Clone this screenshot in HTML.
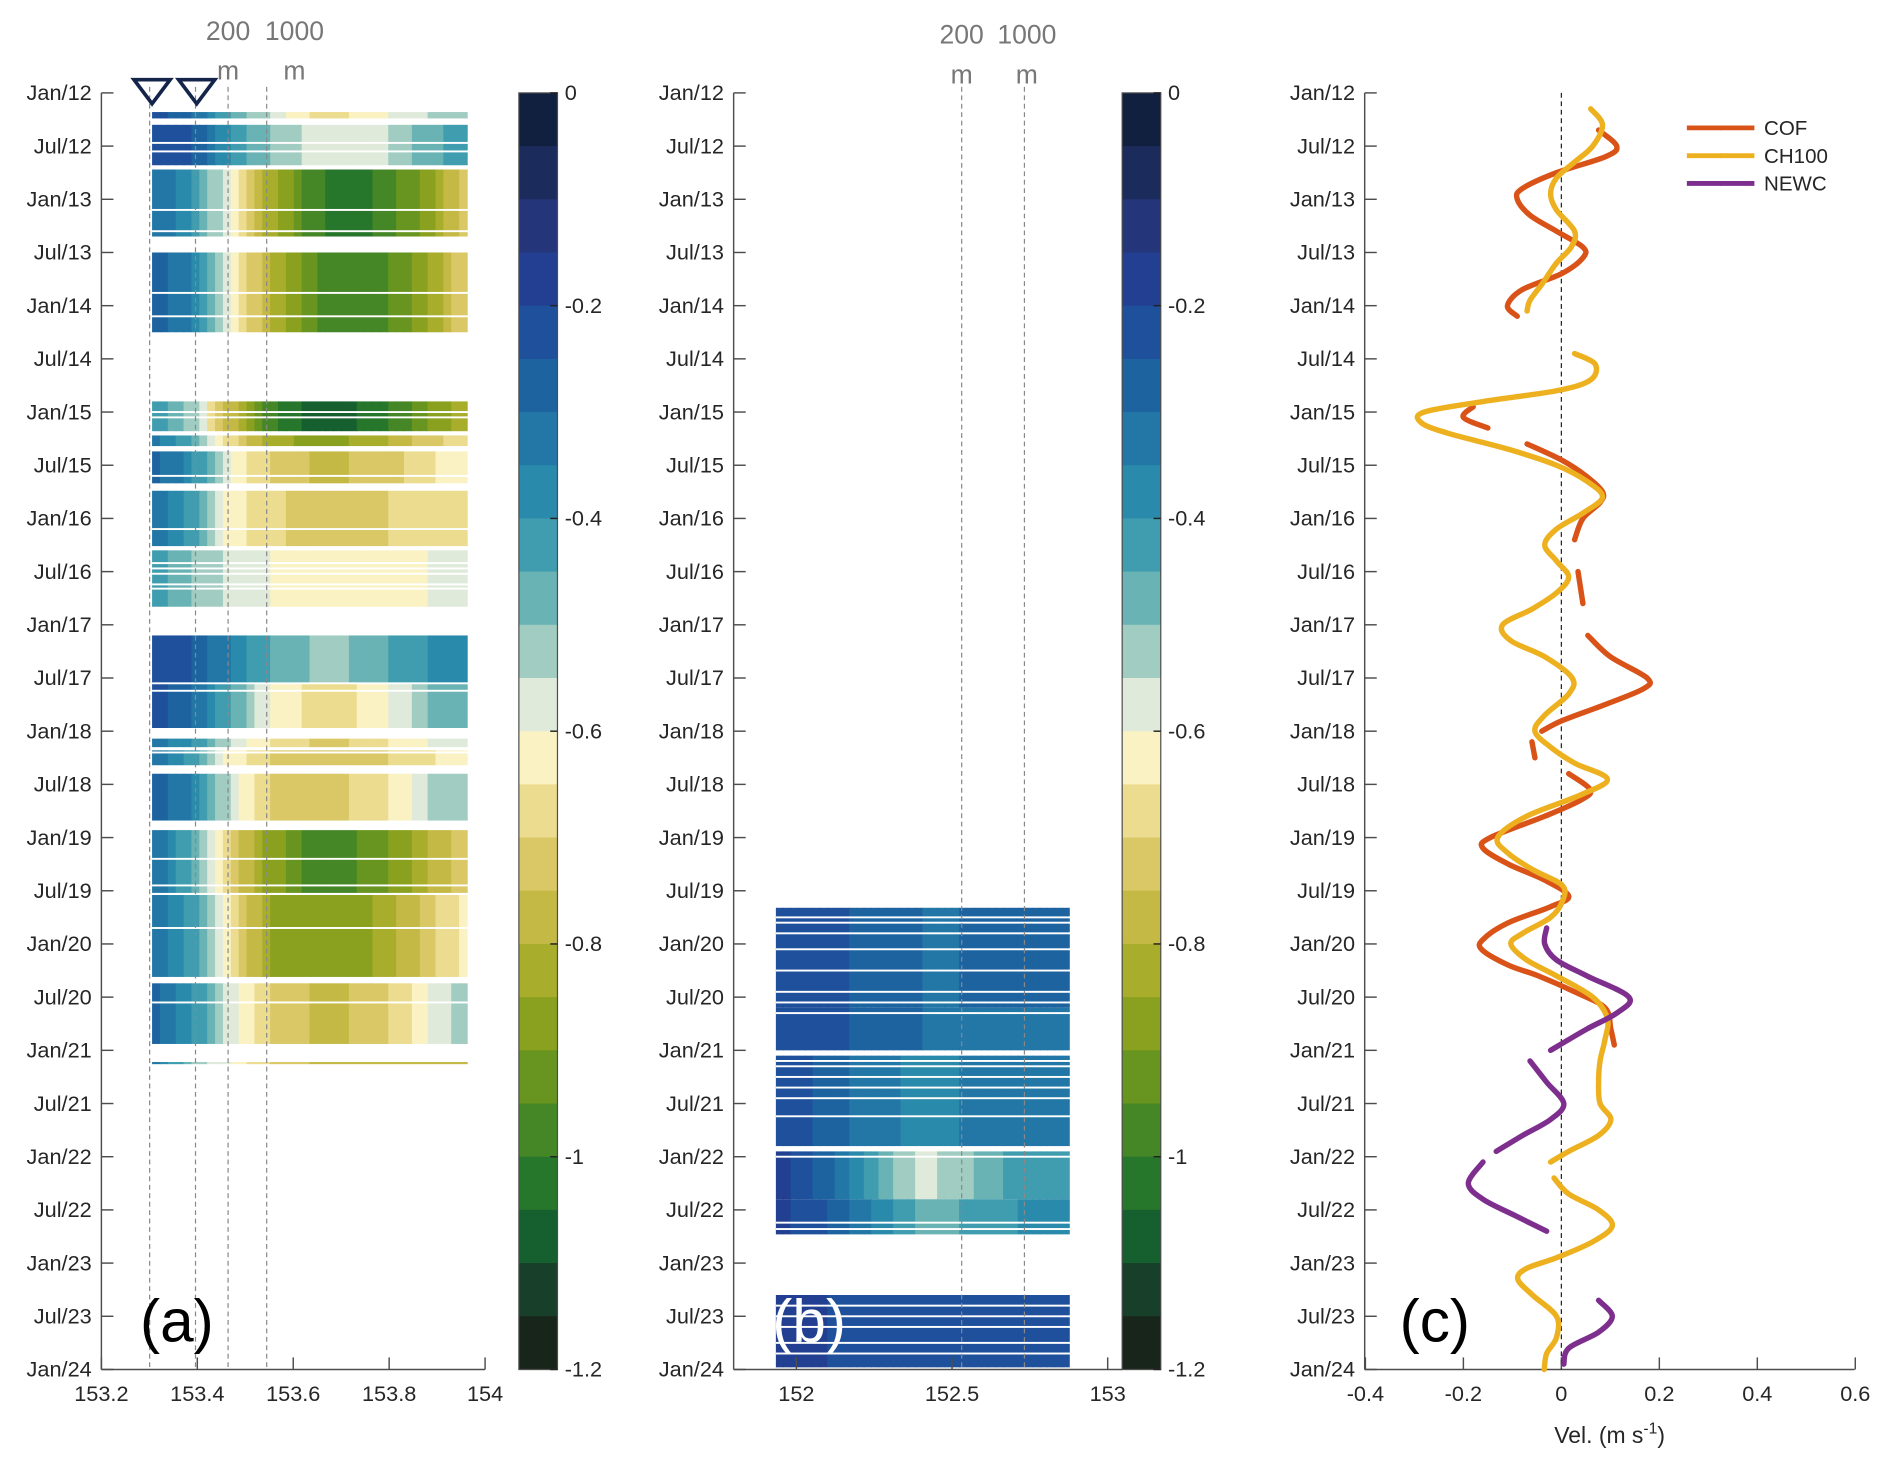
<!DOCTYPE html>
<html><head><meta charset="utf-8"><style>
html,body{margin:0;padding:0;background:#fff;}
svg{display:block;font-family:"Liberation Sans",sans-serif;}
</style></head><body>
<svg id="fig" width="1892" height="1466" viewBox="0 0 1568 1215" xmlns="http://www.w3.org/2000/svg"></svg>
<script>
// ---- shared time axis ----
const monthLabels = ['Jan/12','Jul/12','Jan/13','Jul/13','Jan/14','Jul/14','Jan/15','Jul/15','Jan/16','Jul/16','Jan/17','Jul/17','Jan/18','Jul/18','Jan/19','Jul/19','Jan/20','Jul/20','Jan/21','Jul/21','Jan/22','Jul/22','Jan/23','Jul/23','Jan/24'];
const cbTicks = [0,-0.2,-0.4,-0.6,-0.8,-1,-1.2];
const cbColors = ['#11203f','#1b2b5c','#243679','#233f91','#1e509c','#1d63a0','#2277a6','#2a8aab','#3f9daf','#6ab3b5','#a0ccc1','#dfeadb','#faf2c3','#ecdc8f','#d9c865','#c4b944','#a9ad2c','#8aa11f','#689520','#458726','#26762b','#165f2e','#173f2a','#18251a'];
// panel a: bands [tStart, tEnd] (years since Jan 2012) and values per longitude column
const aBandTimes = [[0.18,0.24],[0.3,0.68],[0.72,1.35],[1.5,2.25],[2.9,3.18],[3.22,3.32],[3.37,3.67],[3.74,4.26],[4.3,4.83],[5.1,5.55],[5.55,5.97],[6.07,6.15],[6.18,6.32],[6.4,6.84],[6.93,7.52],[7.54,8.31],[8.37,8.94],[9.11,9.13]];
const aBandValues = [
 [-0.2,-0.3,-0.45,-0.55,-0.65,-0.65,-0.6,-0.55,-0.5],
 [-0.2,-0.25,-0.4,-0.5,-0.57,-0.6,-0.55,-0.47,-0.42],
 [-0.3,-0.38,-0.62,-0.82,-0.97,-1.05,-0.97,-0.87,-0.72],
 [-0.25,-0.35,-0.6,-0.8,-0.93,-1.0,-0.95,-0.85,-0.7],
 [-0.4,-0.52,-0.78,-0.97,-1.07,-1.07,-1.0,-0.9,-0.8],
 [-0.32,-0.45,-0.68,-0.82,-0.87,-0.85,-0.8,-0.72,-0.66],
 [-0.27,-0.38,-0.6,-0.7,-0.75,-0.75,-0.72,-0.66,-0.6],
 [-0.3,-0.42,-0.62,-0.68,-0.72,-0.72,-0.7,-0.67,-0.66],
 [-0.4,-0.5,-0.57,-0.6,-0.64,-0.64,-0.62,-0.6,-0.58],
 [-0.2,-0.25,-0.35,-0.45,-0.5,-0.5,-0.45,-0.4,-0.35],
 [-0.22,-0.3,-0.45,-0.6,-0.66,-0.66,-0.6,-0.5,-0.45],
 [-0.3,-0.4,-0.55,-0.65,-0.7,-0.7,-0.65,-0.6,-0.55],
 [-0.3,-0.42,-0.62,-0.7,-0.73,-0.73,-0.7,-0.66,-0.6],
 [-0.25,-0.35,-0.57,-0.7,-0.72,-0.7,-0.65,-0.55,-0.5],
 [-0.3,-0.45,-0.7,-0.87,-0.96,-0.96,-0.9,-0.8,-0.7],
 [-0.3,-0.42,-0.66,-0.85,-0.9,-0.88,-0.82,-0.72,-0.62],
 [-0.28,-0.38,-0.58,-0.7,-0.75,-0.75,-0.7,-0.6,-0.5],
 [-0.3,-0.5,-0.6,-0.7,-0.75,-0.75,-0.75,-0.75,-0.75]];
const aStripes = [0.47,0.55,0.7,1.1,1.3,1.88,2.1,3.0,3.05,3.2,3.6,4.1,4.42,4.47,4.52,4.62,4.66,5.55,5.62,6.2,7.2,7.45,7.85,8.55];
// panel b
const bBandTimes = [[7.66,8.6],[8.6,9.0],[9.05,9.9],[9.95,10.4],[10.4,10.73],[11.3,11.98]];
const bBandValues = [
 [-0.22,-0.24,-0.25,-0.27,-0.3,-0.3,-0.28,-0.27,-0.27],
 [-0.2,-0.22,-0.25,-0.28,-0.3,-0.3,-0.3,-0.3,-0.3],
 [-0.22,-0.25,-0.3,-0.33,-0.37,-0.35,-0.32,-0.3,-0.32],
 [-0.18,-0.24,-0.35,-0.47,-0.57,-0.52,-0.46,-0.42,-0.4],
 [-0.18,-0.22,-0.3,-0.38,-0.46,-0.45,-0.42,-0.38,-0.38],
 [-0.18,-0.19,-0.21,-0.22,-0.22,-0.22,-0.22,-0.22,-0.22]];
const bStripes = [7.75,7.8,7.9,8.05,8.25,8.45,8.55,8.65,9.1,9.15,9.25,9.35,9.45,9.62,10.0,10.62,10.68,11.4,11.5,11.6,11.75,11.85];
// panel c series (t in years since Jan 2012, velocity m/s; null = gap)
const cofT = [0.35,0.5,0.6,0.75,0.9,1.0,1.15,1.3,1.45,1.55,1.7,1.85,2.0,2.1,null,2.95,3.05,3.15,null,3.3,3.45,3.6,3.75,3.85,4.0,4.2,null,4.5,4.8,null,5.1,5.3,5.5,5.6,5.75,5.9,6.0,null,6.1,6.25,null,6.4,6.55,6.65,6.8,7.0,7.1,7.25,7.4,7.55,7.65,7.8,7.95,8.05,8.2,8.3,8.45,8.6,8.8,8.95];
const cofV = [0.076,0.113,0.09,-0.01,-0.08,-0.09,-0.064,-0.01,0.044,0.044,0,-0.08,-0.11,-0.09,null,-0.18,-0.2,-0.15,null,-0.07,0,0.05,0.084,0.079,0.044,0.027,null,0.034,0.044,null,0.054,0.1,0.175,0.168,0.089,0.002,-0.04,null,-0.06,-0.054,null,0.015,0.059,0.039,-0.034,-0.145,-0.16,-0.108,-0.034,0.015,-0.022,-0.108,-0.158,-0.163,-0.108,-0.047,0.027,0.089,0.101,0.108];
const chT = [0.15,0.3,0.5,0.65,0.8,0.95,1.1,1.3,1.45,1.6,1.8,1.95,2.05,null,2.45,2.55,2.7,2.8,2.9,3.0,3.1,3.2,3.35,3.5,3.65,3.8,3.95,4.1,4.25,4.4,4.55,4.7,4.85,5.0,5.15,5.3,5.5,5.65,5.85,6.0,6.15,6.3,6.45,6.6,6.8,7.0,7.15,7.3,7.45,7.6,7.75,7.9,8.0,8.15,8.3,8.5,8.7,8.9,9.1,9.3,9.5,9.65,9.8,9.95,10.05,null,10.2,10.35,10.5,10.65,10.8,10.95,11.05,11.15,11.3,11.5,11.7,11.85,12.0];
const chV = [0.06,0.084,0.064,0.027,-0.01,-0.022,-0.01,0.027,0.02,-0.01,-0.04,-0.064,-0.07,null,0.027,0.069,0.059,-0.01,-0.158,-0.28,-0.286,-0.231,-0.108,-0.01,0.052,0.084,0.044,-0.01,-0.034,-0.01,0.015,-0.01,-0.059,-0.12,-0.103,-0.034,0.022,0.015,-0.034,-0.054,-0.022,0.027,0.094,0.039,-0.071,-0.13,-0.108,-0.059,0.002,0.002,-0.022,-0.079,-0.103,-0.071,-0.01,0.064,0.094,0.089,0.079,0.076,0.079,0.101,0.076,0.015,-0.022,null,-0.015,0.015,0.076,0.104,0.064,-0.01,-0.071,-0.089,-0.059,-0.01,-0.01,-0.03,-0.035];
const nwT = [7.85,8.0,8.15,8.3,8.5,8.65,8.8,9.0,null,9.1,9.3,9.5,9.65,9.8,9.95,null,10.05,10.25,10.4,10.55,10.7,null,11.35,11.5,11.65,11.8,11.95];
const nwV = [-0.03,-0.034,-0.01,0.052,0.138,0.113,0.052,-0.022,null,-0.064,-0.03,0.005,-0.022,-0.079,-0.133,null,-0.16,-0.19,-0.16,-0.096,-0.03,null,0.076,0.104,0.076,0.015,0.005];
const legendNames = ['COF','CH100','NEWC'];
const seriesColors = ['#d95319','#edb120','#7e2f8e'];

const NS='http://www.w3.org/2000/svg';
const svg=document.getElementById('fig');
function el(tag,attrs,parent){const e=document.createElementNS(NS,tag);for(const k in attrs)e.setAttribute(k,attrs[k]);(parent||svg).appendChild(e);return e;}
function txt(s,attrs,parent){const e=el('text',attrs,parent);e.textContent=s;return e;}
const Y0=77,Y1=1135;
const yT=t=>Y0+t*(Y1-Y0)/12;
const colorOf=v=>cbColors[Math.max(0,Math.min(23,Math.floor(-v/0.05+1e-9)))];
const AX='#4d4d4d', TC='#262626', FS=18;

function timeAxis(x,name){
  const g=el('g',{});
  
  
  el('line',{x1:x,y1:Y0,x2:x,y2:Y1,stroke:AX,'stroke-width':1.2},g);
  monthLabels.forEach((m,i)=>{
    const y=yT(i/2);
    el('line',{x1:x,y1:y,x2:x+10,y2:y,stroke:AX,'stroke-width':1.2},g);
    const t=txt(m,{x:x-8,y:y+6,'text-anchor':'end','font-size':FS,fill:TC},g);
    
    
  });
}
function xAxis(x0,x1,ticks,scale,name){
  const g=el('g',{});
  
  
  el('line',{x1:x0,y1:Y1,x2:x1,y2:Y1,stroke:AX,'stroke-width':1.2},g);
  ticks.forEach(v=>{
    const x=scale(v);
    el('line',{x1:x,y1:Y1,x2:x,y2:Y1-10,stroke:AX,'stroke-width':1.2},g);
    const t=txt(String(v),{x:x,y:Y1+26,'text-anchor':'middle','font-size':FS,fill:TC},g);
    
    
  });
}
function heatmap(times,vals,stripes,x0,x1,name){
  const g=el('g',{});
  
  
  const SUB=5;
  times.forEach((b,i)=>{
    const row=vals[i],n=row.length,w=(x1-x0)/(n-1);
    // first/last half cells hold their edge value; in-between are rendered with sub-cell blending
    for(let j=0;j<n-1;j++){
      for(let k=0;k<SUB;k++){
        const f=(k+0.5)/SUB, v=row[j]*(1-f)+row[j+1]*f;
        const r=el('rect',{x:x0+(j+k/SUB)*w,y:yT(b[0]),width:w/SUB+0.6,height:yT(b[1])-yT(b[0]),fill:colorOf(v)},g);
        
        
      }
    }
  });
  stripes.forEach(t=>{
    const s=el('rect',{x:x0,y:yT(t)-0.8,width:x1-x0+1,height:1.6,fill:'#fff'},g);
    
    
  });
}
function colorbar(x,name){
  const g=el('g',{});
  
  
  const h=(Y1-Y0)/cbColors.length;
  cbColors.forEach((c,i)=>el('rect',{x:x,y:Y0+i*h,width:32,height:h+0.5,fill:c},g));
  el('rect',{x:x,y:Y0,width:32,height:Y1-Y0,fill:'none',stroke:AX,'stroke-width':1},g);
  cbTicks.forEach(v=>{
    const y=Y0+(-v/1.2)*(Y1-Y0);
    el('line',{x1:x+32,y1:y,x2:x+26,y2:y,stroke:'#222','stroke-width':1.2},g);
    const t=txt(String(v),{x:x+38,y:y+6,'font-size':FS,fill:TC},g);
    
    
  });
}
function dashV(x,name){
  const l=el('line',{x1:x,y1:Y0-5,x2:x,y2:Y1,stroke:'#888','stroke-width':1,'stroke-dasharray':'4,3'});
  
  
}
function isoLabels(x1,x2,y,name){
  const g=el('g',{});
  
  
  txt('200',{x:x1,y:y,'text-anchor':'middle','font-size':22,fill:'#777'},g);
  txt('1000',{x:x2,y:y,'text-anchor':'middle','font-size':22,fill:'#777'},g);
  txt('m',{x:x1,y:y+33,'text-anchor':'middle','font-size':22,fill:'#777'},g);
  txt('m',{x:x2,y:y+33,'text-anchor':'middle','font-size':22,fill:'#777'},g);
}

// ---- panel a ----
const lonA=v=>84+(v-153.2)*(402-84)/0.8;
heatmap(aBandTimes,aBandValues,aStripes,126,387,'heatmap-a');
[124,162,189,221].forEach(x=>dashV(x,'isobath-line-a'));
timeAxis(84,'time-axis-a');
xAxis(84,402,[153.2,153.4,153.6,153.8,154],lonA,'lon-axis-a');
isoLabels(189,244,33,'isobath-labels-a');
[126,163].forEach(x=>{
  const tr=el('path',{d:`M${x-15},66 L${x+15},66 L${x},86 Z`,fill:'none',stroke:'#14244a','stroke-width':3});
  
  
});
colorbar(430,'colorbar-a');
const la=txt('(a)',{x:116,y:1112,'font-size':50,fill:'#000'});



// ---- panel b ----
const lonB=v=>660+(v-152)*(918-660);
heatmap(bBandTimes,bBandValues,bStripes,643,886,'heatmap-b');
[797,849].forEach(x=>dashV(x,'isobath-line-b'));
timeAxis(608,'time-axis-b');
xAxis(608,930,[152,152.5,153],lonB,'lon-axis-b');
isoLabels(797,851,36,'isobath-labels-b');
colorbar(930,'colorbar-b');
const lb=txt('(b)',{x:640,y:1112,'font-size':50,fill:'#fff'});



// ---- panel c ----
const vX=v=>1294+v*(1537-1131);
timeAxis(1131,'time-axis-c');
xAxis(1131,1537,[-0.4,-0.2,0,0.2,0.4,0.6],vX,'velocity-axis');
const zl=el('line',{x1:vX(0),y1:Y0,x2:vX(0),y2:Y1,stroke:'#222','stroke-width':1,'stroke-dasharray':'4,3'});


const xt=txt('Vel. (m s',{x:1334,y:1196,'text-anchor':'middle','font-size':19,fill:TC});


const ts=el('tspan',{dy:-8,'font-size':13},xt);ts.textContent='-1';
const ts2=el('tspan',{dy:8},xt);ts2.textContent=')';

function smoothPath(T,V){
  let segs=[],cur=[];
  T.forEach((t,i)=>{if(t===null||V[i]===null){if(cur.length)segs.push(cur);cur=[];}else cur.push([vX(V[i]),yT(t)]);});
  if(cur.length)segs.push(cur);
  let d='';
  segs.forEach(p=>{
    d+=`M${p[0][0]},${p[0][1]}`;
    for(let i=0;i<p.length-1;i++){
      const p0=p[Math.max(0,i-1)],p1=p[i],p2=p[i+1],p3=p[Math.min(p.length-1,i+2)];
      const c1=[p1[0]+(p2[0]-p0[0])/6,p1[1]+(p2[1]-p0[1])/6],c2=[p2[0]-(p3[0]-p1[0])/6,p2[1]-(p3[1]-p1[1])/6];
      d+=` C${c1[0]},${c1[1]} ${c2[0]},${c2[1]} ${p2[0]},${p2[1]}`;
    }
  });
  return d;
}
const cof=el('path',{d:smoothPath(cofT,cofV),fill:'none',stroke:seriesColors[0],'stroke-width':4.5,'stroke-linecap':'round'});


const ch=el('path',{d:smoothPath(chT,chV),fill:'none',stroke:seriesColors[1],'stroke-width':4.5,'stroke-linecap':'round'});


const nw=el('path',{d:smoothPath(nwT,nwV),fill:'none',stroke:seriesColors[2],'stroke-width':4.5,'stroke-linecap':'round'});



const lg=el('g',{});


legendNames.forEach((n,i)=>{
  const y=106+i*23;
  const e=el('g',{},lg);
  
  
  el('line',{x1:1398,y1:y,x2:1454,y2:y,stroke:seriesColors[i],'stroke-width':4},e);
  el('circle',{cx:1426,cy:y,r:2,fill:seriesColors[i]},e);
  txt(n,{x:1462,y:y+6,'font-size':17,fill:TC},e);
});
const lc=txt('(c)',{x:1160,y:1112,'font-size':50,fill:'#000'});


</script>
</body></html>
